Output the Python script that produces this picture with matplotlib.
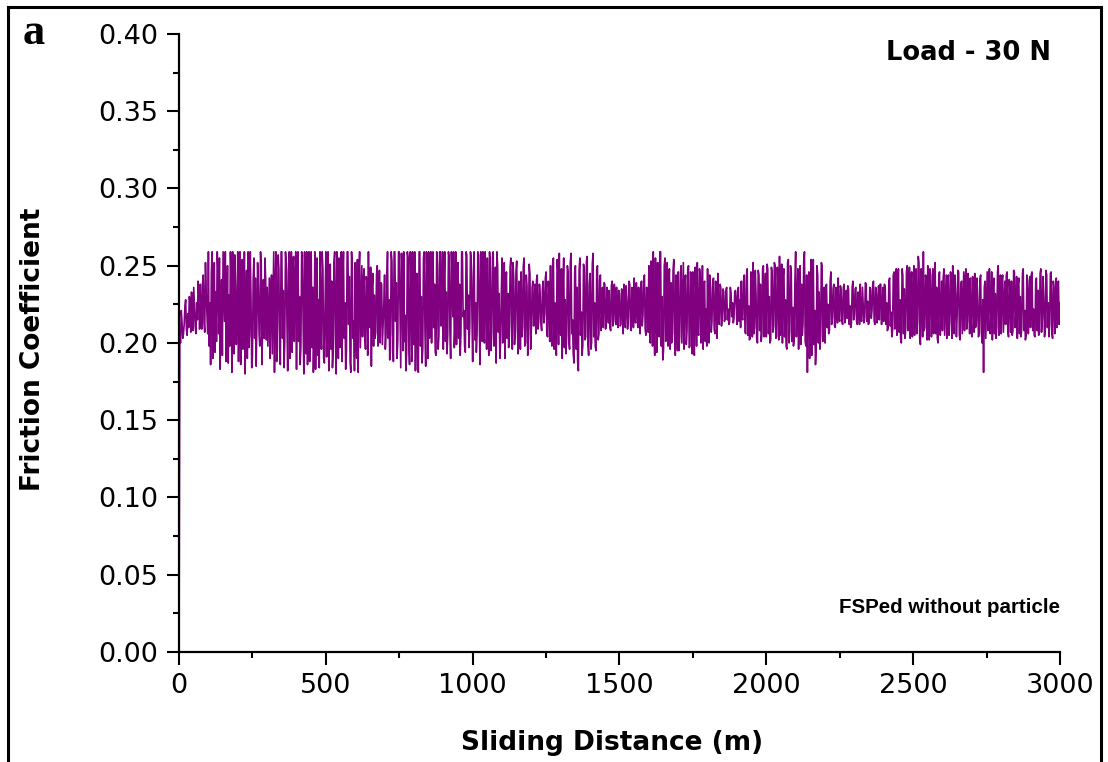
import numpy as np
import matplotlib
matplotlib.use("Agg")
import matplotlib.pyplot as plt
from matplotlib.lines import Line2D
from matplotlib.ticker import MultipleLocator, FormatStrFormatter


# friction coefficient x1000 at 0, 5, 10 ... 3000 m
FRICTION_EVEN = [
    0, 200, 214, 206, 224, 209, 219, 230, 207, 215, 236, 211, 226, 240, 209, 222, 238, 213, 252, 218,
    259, 226, 245, 190, 252, 233, 259, 206, 183, 241, 259, 214, 188, 250, 231, 259, 181, 222, 257, 199,
    259, 238, 186, 254, 215, 180, 247, 259, 205, 229, 192, 255, 242, 210, 236, 198, 250, 224, 203, 241,
    236, 219, 190, 244, 227, 181, 259, 212, 248, 186, 259, 234, 200, 252, 182, 259, 221, 194, 256, 240,
    183, 259, 230, 198, 257, 180, 244, 259, 211, 188, 259, 236, 205, 183, 255, 228, 259, 196, 247, 187,
    259, 219, 182, 251, 240, 196, 259, 180, 233, 255, 208, 188, 259, 226, 194, 259, 243, 181, 249, 214,
    252, 190, 181, 259, 224, 204, 248, 196, 239, 259, 210, 185, 245, 231, 207, 250, 218, 200, 238, 213,
    244, 206, 259, 228, 195, 253, 188, 259, 239, 202, 259, 184, 247, 259, 218, 193, 255, 186, 236, 259,
    199, 182, 245, 181, 259, 230, 196, 259, 185, 242, 259, 216, 200, 259, 238, 192, 251, 205, 259, 227,
    196, 259, 233, 205, 255, 190, 246, 259, 212, 199, 252, 238, 206, 259, 221, 194, 257, 231, 210, 255,
    188, 259, 226, 206, 257, 186, 240, 259, 200, 235, 255, 192, 248, 207, 259, 219, 187, 250, 232, 200,
    255, 214, 190, 246, 232, 205, 255, 196, 241, 208, 253, 193, 228, 246, 210, 255, 200, 237, 206, 245,
    210, 240, 222, 206, 244, 214, 230, 208, 240, 219, 246, 204, 232, 250, 198, 255, 226, 192, 248, 258,
    205, 190, 255, 228, 204, 246, 196, 258, 215, 187, 250, 236, 182, 255, 220, 198, 248, 204, 256, 192,
    245, 200, 258, 226, 195, 250, 206, 244, 218, 210, 238, 212, 228, 234, 208, 240, 214, 226, 236, 210,
    232, 212, 224, 238, 210, 228, 216, 238, 208, 231, 242, 213, 222, 236, 206, 240, 218, 244, 205, 229,
    250, 200, 236, 259, 192, 222, 252, 204, 259, 230, 195, 255, 213, 198, 248, 239, 206, 254, 192, 228,
    246, 204, 250, 225, 196, 244, 208, 250, 198, 232, 246, 192, 236, 252, 205, 244, 215, 196, 240, 222,
    248, 200, 236, 214, 242, 206, 228, 245, 212, 236, 218, 233, 216, 236, 222, 214, 232, 226, 216, 234,
    212, 236, 228, 240, 215, 244, 206, 248, 224, 203, 240, 252, 210, 232, 200, 244, 238, 206, 250, 222,
    204, 248, 230, 202, 245, 211, 250, 204, 236, 256, 216, 200, 248, 228, 196, 254, 208, 246, 223, 202,
    259, 220, 196, 250, 238, 212, 259, 198, 181, 246, 230, 192, 254, 221, 196, 244, 233, 204, 250, 215,
    200, 238, 225, 208, 246, 216, 238, 210, 230, 242, 214, 234, 212, 238, 220, 216, 235, 224, 213, 240,
    218, 236, 212, 229, 238, 214, 224, 216, 238, 227, 213, 235, 221, 240, 212, 232, 224, 215, 238, 222,
    214, 236, 226, 210, 242, 220, 208, 246, 216, 205, 248, 228, 200, 244, 235, 210, 250, 220, 203, 246,
    230, 205, 248, 214, 252, 199, 232, 259, 210, 238, 250, 202, 244, 221, 206, 252, 236, 200, 246, 218,
    208, 248, 226, 203, 244, 214, 236, 250, 206, 232, 218, 246, 202, 240, 225, 208, 248, 214, 230, 242,
    204, 236, 245, 212, 228, 206, 244, 200, 181, 240, 226, 208, 248, 218, 202, 242, 232, 210, 250, 216,
    206, 244, 224, 212, 246, 204, 232, 240, 208, 246, 218, 203, 242, 230, 210, 248, 221, 205, 240, 228,
    210, 246, 222, 204, 242, 234, 206, 248, 216, 230, 208, 244, 226, 212, 246, 203, 236, 218, 210, 240,
    226,
]

# friction coefficient x1000 at 2.5, 7.5, 12.5 ... 2997.5 m
FRICTION_ODD = [
    205, 221, 203, 212, 228, 205, 210, 226, 233, 208, 224, 206, 215, 231, 238, 209, 244, 207, 232, 206,
    198, 186, 259, 216, 194, 201, 247, 255, 226, 192, 238, 259, 209, 187, 198, 240, 259, 193, 236, 218,
    188, 259, 232, 196, 259, 226, 190, 197, 259, 184, 241, 203, 185, 252, 206, 259, 186, 241, 255, 202,
    198, 242, 231, 193, 259, 234, 188, 257, 197, 259, 203, 184, 259, 214, 247, 190, 259, 248, 201, 259,
    238, 201, 186, 259, 214, 259, 193, 186, 259, 249, 197, 181, 259, 241, 192, 184, 209, 259, 190, 226,
    191, 259, 233, 196, 184, 252, 206, 259, 190, 197, 259, 242, 203, 183, 259, 212, 188, 259, 203, 182,
    203, 254, 246, 197, 250, 239, 205, 243, 192, 214, 249, 236, 198, 203, 244, 198, 247, 239, 199, 226,
    196, 241, 203, 189, 259, 206, 259, 214, 190, 259, 220, 258, 195, 201, 182, 259, 199, 259, 188, 226,
    259, 228, 183, 259, 198, 187, 255, 208, 259, 190, 203, 259, 246, 210, 194, 259, 196, 259, 211, 259,
    240, 201, 193, 259, 208, 259, 217, 197, 259, 246, 203, 192, 259, 217, 198, 259, 209, 197, 259, 218,
    243, 202, 194, 259, 215, 259, 201, 212, 259, 196, 213, 259, 195, 255, 198, 249, 259, 207, 190, 231,
    200, 252, 237, 203, 197, 249, 212, 252, 199, 246, 208, 240, 196, 204, 250, 198, 244, 192, 251, 196,
    236, 211, 238, 241, 209, 238, 212, 235, 213, 242, 206, 240, 201, 205, 252, 196, 203, 254, 199, 215,
    248, 236, 197, 193, 250, 201, 252, 206, 193, 246, 196, 188, 247, 205, 192, 251, 202, 253, 199, 238,
    196, 251, 204, 198, 247, 202, 241, 208, 236, 239, 209, 236, 213, 210, 237, 211, 238, 212, 214, 234,
    211, 235, 206, 214, 237, 209, 240, 212, 236, 210, 215, 239, 210, 214, 238, 211, 241, 209, 236, 207,
    208, 253, 198, 210, 255, 194, 213, 259, 198, 189, 250, 201, 252, 236, 196, 200, 247, 205, 244, 195,
    195, 245, 200, 252, 238, 199, 247, 197, 246, 193, 202, 249, 198, 206, 248, 200, 250, 238, 201, 198,
    204, 244, 207, 238, 209, 240, 203, 214, 238, 211, 235, 214, 234, 215, 212, 236, 217, 213, 233, 225,
    233, 214, 210, 216, 240, 207, 243, 205, 202, 246, 204, 206, 247, 202, 247, 208, 201, 248, 204, 245,
    251, 206, 200, 249, 207, 252, 203, 249, 202, 205, 251, 244, 204, 198, 252, 200, 250, 201, 198, 240,
    204, 248, 232, 199, 205, 253, 201, 244, 235, 190, 254, 240, 199, 186, 250, 200, 196, 252, 201, 236,
    236, 210, 206, 240, 212, 235, 211, 236, 213, 216, 237, 214, 236, 213, 234, 237, 212, 210, 236, 215,
    235, 214, 233, 212, 215, 236, 213, 239, 214, 212, 236, 216, 238, 214, 236, 213, 237, 238, 212, 236,
    238, 212, 208, 240, 211, 204, 244, 209, 248, 236, 207, 203, 248, 206, 203, 246, 208, 249, 238, 204,
    250, 238, 206, 256, 203, 248, 204, 208, 244, 202, 210, 248, 204, 248, 240, 206, 203, 244, 205, 240,
    242, 205, 244, 238, 205, 246, 203, 211, 244, 204, 247, 205, 238, 206, 246, 241, 209, 245, 206, 214,
    243, 207, 210, 242, 204, 241, 207, 228, 236, 203, 246, 241, 206, 246, 235, 206, 203, 246, 205, 244,
    240, 207, 240, 244, 208, 241, 207, 205, 247, 210, 243, 238, 206, 204, 245, 208, 202, 244, 206, 243,
    244, 208, 205, 240, 208, 205, 245, 207, 243, 204, 247, 210, 204, 245, 207, 240, 206, 242, 238, 212,
]
STEP_M = 2.5
X_TICKS = [0, 500, 1000, 1500, 2000, 2500, 3000]
Y_TICKS = [0.00, 0.05, 0.10, 0.15, 0.20, 0.25, 0.30, 0.35, 0.40]

LINE_COLOR = "#800080"


def main():
    friction = np.empty(len(FRICTION_EVEN) + len(FRICTION_ODD))
    friction[0::2] = FRICTION_EVEN
    friction[1::2] = FRICTION_ODD
    friction = friction / 1000.0
    distance = np.arange(len(friction)) * STEP_M

    plt.rcParams["font.family"] = ["DejaVu Sans"]

    fig = plt.figure(figsize=(11.08, 7.62), dpi=100)
    ax = fig.add_axes([0.1616, 0.1444, 0.795, 0.811])

    ax.plot(distance, friction, color=LINE_COLOR, lw=1.2)

    ax.set_xlim(0, 3000)
    ax.set_ylim(0, 0.40)
    ax.set_xticks(X_TICKS)
    ax.set_yticks(Y_TICKS)
    ax.xaxis.set_minor_locator(MultipleLocator(250))
    ax.yaxis.set_minor_locator(MultipleLocator(0.025))
    ax.yaxis.set_major_formatter(FormatStrFormatter("%.2f"))

    for side in ("top", "right"):
        ax.spines[side].set_visible(False)
    for side in ("left", "bottom"):
        ax.spines[side].set_linewidth(1.6)

    ax.tick_params(which="major", direction="out", length=9, width=1.5,
                   labelsize=19.5, pad=6)
    ax.tick_params(which="minor", direction="out", length=4.5, width=1.5)

    ax.set_xlabel("Sliding Distance (m)", fontsize=19, fontweight="bold")
    ax.set_ylabel("Friction Coefficient", fontsize=19, fontweight="bold")
    ax.xaxis.set_label_coords(0.4915, -0.126)
    ax.yaxis.set_label_coords(-0.151, 0.49)

    ax.text(0.99, 0.97, "Load - 30 N", transform=ax.transAxes,
            ha="right", va="center", fontsize=18.5, fontweight="bold")
    ax.text(1.0, 0.0725, "FSPed without particle", transform=ax.transAxes,
            ha="right", va="center", fontsize=14.8, fontweight="bold",
            family="Liberation Sans")

    fig.text(0.030, 0.957, "a", ha="center", va="center", fontsize=32,
             fontweight="bold", family="Liberation Serif")

    # frame around the panel
    for xs, ys in (([0.0072, 0.0072], [0.0, 0.9908]),
                   ([0.0072, 0.9937], [0.9908, 0.9908]),
                   ([0.9937, 0.9937], [0.9908, 0.0])):
        fig.add_artist(Line2D(xs, ys, transform=fig.transFigure,
                              color="black", lw=2.2))

    fig.savefig("out.png", dpi=100)


if __name__ == '__main__':
    main()
